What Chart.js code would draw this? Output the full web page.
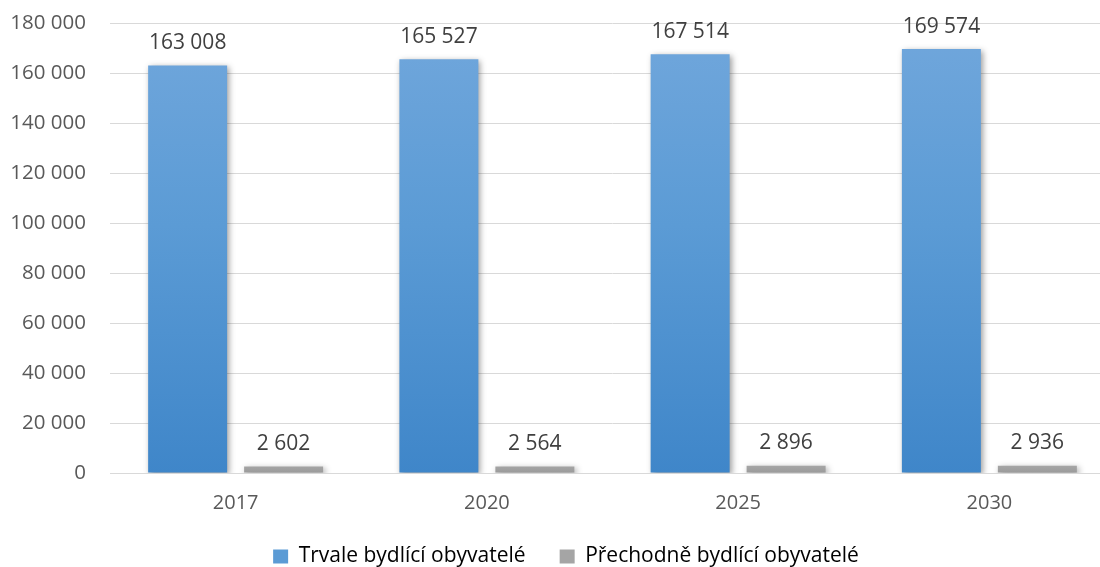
<!DOCTYPE html>
<html lang="cs">
<head>
<meta charset="utf-8">
<title>Obyvatelé 2017–2030</title>
<script src="https://cdn.jsdelivr.net/npm/chart.js@4/dist/chart.umd.min.js"></script>
<style>
  html, body { margin: 0; padding: 0; background: #ffffff; overflow: hidden; }
  #wrap { width: 1132px; height: 577px; position: relative; }
</style>
</head>
<body>
<div id="wrap"><canvas id="chart"></canvas></div>
<script>
// Roky prognózy
const categories = ['2017', '2020', '2025', '2030'];
// Počty obyvatel
const permanentResidents = [163008, 165527, 167514, 169574];
const temporaryResidents = [2602, 2564, 2896, 2936];
const seriesNames = ['Trvale bydlící obyvatelé', 'Přechodně bydlící obyvatelé'];
// Osa Y
const yTicks = [0, 20000, 40000, 60000, 80000, 100000, 120000, 140000, 160000, 180000];

const FONT = '"Open Sans", "Noto Sans", sans-serif';

// mezera jako oddělovač tisíců
function fmt(v) {
  return String(v).replace(/\B(?=(\d{3})+(?!\d))/g, ' ');
}

function blueGradient(ctx) {
  const area = ctx.chart.chartArea;
  if (!area) return '#5b9bd5';
  const g = ctx.chart.ctx.createLinearGradient(0, area.bottom, 0, area.top);
  g.addColorStop(0, '#3f86c9');
  g.addColorStop(0.55, '#5b9bd5');
  g.addColorStop(1, '#71a7dc');
  return g;
}
function greyGradient(ctx) {
  const area = ctx.chart.chartArea;
  if (!area) return '#a5a5a5';
  const g = ctx.chart.ctx.createLinearGradient(0, area.bottom, 0, area.bottom - 10);
  g.addColorStop(0, '#9a9a9a');
  g.addColorStop(1, '#ababab');
  return g;
}

// měkký stín pod sloupci
const barShadow = {
  id: 'barShadow',
  beforeDatasetDraw(chart) {
    const c = chart.ctx;
    c.save();
    c.shadowColor = 'rgba(0,0,0,0.38)';
    c.shadowBlur = 6;
    c.shadowOffsetX = 2;
    c.shadowOffsetY = 2;
  },
  afterDatasetDraw(chart) {
    chart.ctx.restore();
  }
};

// hodnoty nad sloupci
const valueLabels = {
  id: 'valueLabels',
  afterDatasetsDraw(chart) {
    const c = chart.ctx;
    c.save();
    c.font = '21px ' + FONT;
    c.fillStyle = '#404040';
    c.textAlign = 'center';
    c.textBaseline = 'bottom';
    chart.data.datasets.forEach((ds, i) => {
      chart.getDatasetMeta(i).data.forEach((bar, j) => {
        c.fillText(fmt(ds.data[j]), bar.x, bar.y - 12);
      });
    });
    c.restore();
  }
};

new Chart(document.getElementById('chart'), {
  type: 'bar',
  data: {
    labels: categories,
    datasets: [
      {
        label: seriesNames[0],
        data: permanentResidents,
        backgroundColor: blueGradient,
        borderWidth: 0
      },
      {
        label: seriesNames[1],
        data: temporaryResidents,
        backgroundColor: greyGradient,
        borderWidth: 0
      }
    ]
  },
  options: {
    responsive: true,
    maintainAspectRatio: false,
    animation: false,
    categoryPercentage: 0.764,
    barPercentage: 0.823,
    layout: { padding: { top: 23, left: 0, right: 0, bottom: 0 } },
    plugins: {
      legend: {
        position: 'bottom',
        labels: {
          color: '#595959',
          font: { family: FONT, size: 21 },
          boxWidth: 15,
          boxHeight: 14,
          padding: 34,
          generateLabels(chart) {
            return chart.data.datasets.map((ds, i) => ({
              text: ds.label,
              fillStyle: i === 0 ? '#5b9bd5' : '#a5a5a5',
              strokeStyle: 'transparent',
              lineWidth: 0,
              datasetIndex: i
            }));
          }
        }
      },
      tooltip: { enabled: false }
    },
    scales: {
      x: {
        grid: { display: false, drawTicks: false },
        border: { display: true, color: '#d9d9d9', width: 1 },
        ticks: {
          color: '#595959',
          font: { family: FONT, size: 20 },
          padding: 18
        },
        afterFit(scale) { scale.height = 39; }
      },
      y: {
        min: 0,
        max: 180000,
        afterBuildTicks(scale) { scale.ticks = yTicks.map(v => ({ value: v })); },
        grid: {
          color: '#d9d9d9',
          lineWidth: 1,
          drawTicks: true,
          tickLength: 24,
          tickColor: 'rgba(0,0,0,0)'
        },
        border: { display: false },
        ticks: {
          color: '#595959',
          font: { family: FONT, size: 20.5 },
          padding: 0,
          callback: v => fmt(v)
        },
        afterFit(scale) { scale.width = 110; }
      },
      // prázdný okraj vpravo, aby legenda zůstala uprostřed celé plochy
      edge: {
        type: 'linear',
        position: 'right',
        display: true,
        grid: { display: false, drawTicks: false },
        border: { display: false },
        ticks: { display: false },
        afterFit(scale) { scale.width = 17; }
      }
    }
  },
  plugins: [barShadow, valueLabels]
});
</script>
</body>
</html>
